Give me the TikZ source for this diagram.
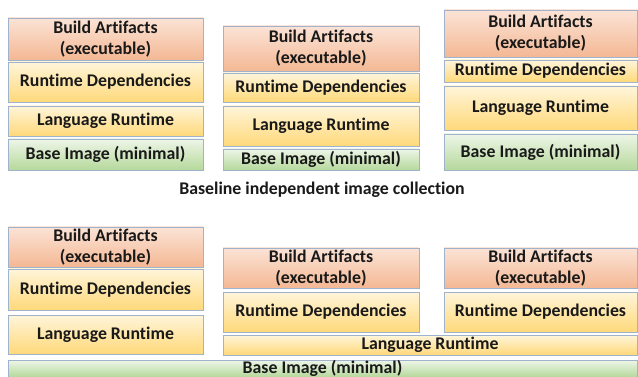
\documentclass[tikz,border=0pt]{standalone}
\usepackage{fontspec}
\setmainfont{Carlito}[Ligatures=NoCommon]
\usetikzlibrary{positioning}
\definecolor{edge}{HTML}{9FB4CC}
\definecolor{peachtop}{HTML}{FBE3D6}
\definecolor{peachbot}{HTML}{F4B894}
\definecolor{yeltop}{HTML}{FFF5DA}
\definecolor{yelbot}{HTML}{FFD97A}
\definecolor{greentop}{HTML}{EEF6E8}
\definecolor{greenbot}{HTML}{B5D89B}
\tikzset{
	layer/.style={draw=edge, line width=.8pt, inner sep=0pt, align=center, text=black!90,
		font=\fontsize{17.8}{21}\selectfont\bfseries},
	artifact/.style={layer, top color=peachtop, bottom color=peachbot},
	deps/.style={layer, top color=yeltop, bottom color=yelbot},
	langrt/.style={layer, top color=yeltop, bottom color=yelbot},
	baseimg/.style={layer, top color=greentop, bottom color=greenbot}
}

\begin{document}
\begin{tikzpicture}[x=1pt, y=-1pt]
			\useasboundingbox (0,0) rectangle (638,377);
			% independent images, one full stack each
			\node[artifact, minimum width=195, minimum height=42] (ba1) at (105.5,39) {Build Artifacts\\(executable)};
			\node[deps, minimum width=195, minimum height=40] (rd1) at (105.5,82) {Runtime Dependencies};
			\node[langrt, minimum width=195, minimum height=30] (lr1) at (105.5,121) {Language Runtime};
			\node[baseimg, minimum width=195, minimum height=31] (bi1) at (105.5,154.5) {Base Image (minimal)};
			\node[artifact, minimum width=196, minimum height=45] (ba2) at (321,48.5) {Build Artifacts\\(executable)};
			\node[deps, minimum width=196, minimum height=29] (rd2) at (321,87.5) {Runtime Dependencies};
			\node[langrt, minimum width=196, minimum height=40] (lr2) at (321,126) {Language Runtime};
			\node[baseimg, minimum width=196, minimum height=21] (bi2) at (321,159.5) {Base Image (minimal)};
			\node[artifact, minimum width=193, minimum height=47] (ba3) at (540.5,33.5) {Build Artifacts\\(executable)};
			\node[deps, minimum width=193, minimum height=22] (rd3) at (540.5,71) {Runtime Dependencies};
			\node[langrt, minimum width=193, minimum height=44] (lr3) at (540.5,108) {Language Runtime};
			\node[baseimg, minimum width=193, minimum height=36] (bi3) at (540.5,152) {Base Image (minimal)};
			\node[font=\fontsize{17.8}{21}\selectfont\bfseries, text=black!90] (caption) at (322,190) {Baseline independent image collection};
			% shared layers
			\node[artifact, minimum width=195, minimum height=40] (sba1) at (105.5,247) {Build Artifacts\\(executable)};
			\node[deps, minimum width=195, minimum height=41] (srd1) at (105.5,289.5) {Runtime Dependencies};
			\node[langrt, minimum width=195, minimum height=39] (slr1) at (105.5,334.5) {Language Runtime};
			\node[artifact, minimum width=196, minimum height=40] (sba2) at (321,268) {Build Artifacts\\(executable)};
			\node[deps, minimum width=196, minimum height=40] (srd2) at (321,312) {Runtime Dependencies};
			\node[artifact, minimum width=193, minimum height=40] (sba3) at (540.5,268) {Build Artifacts\\(executable)};
			\node[deps, minimum width=193, minimum height=40] (srd3) at (540.5,312) {Runtime Dependencies};
			\node[langrt, minimum width=414, minimum height=20] (slr) at (430,345) {Language Runtime};
			\node[baseimg, minimum width=629, minimum height=17] (sbi) at (322.5,368.5) {Base Image (minimal)};
		\end{tikzpicture}
\end{document}
